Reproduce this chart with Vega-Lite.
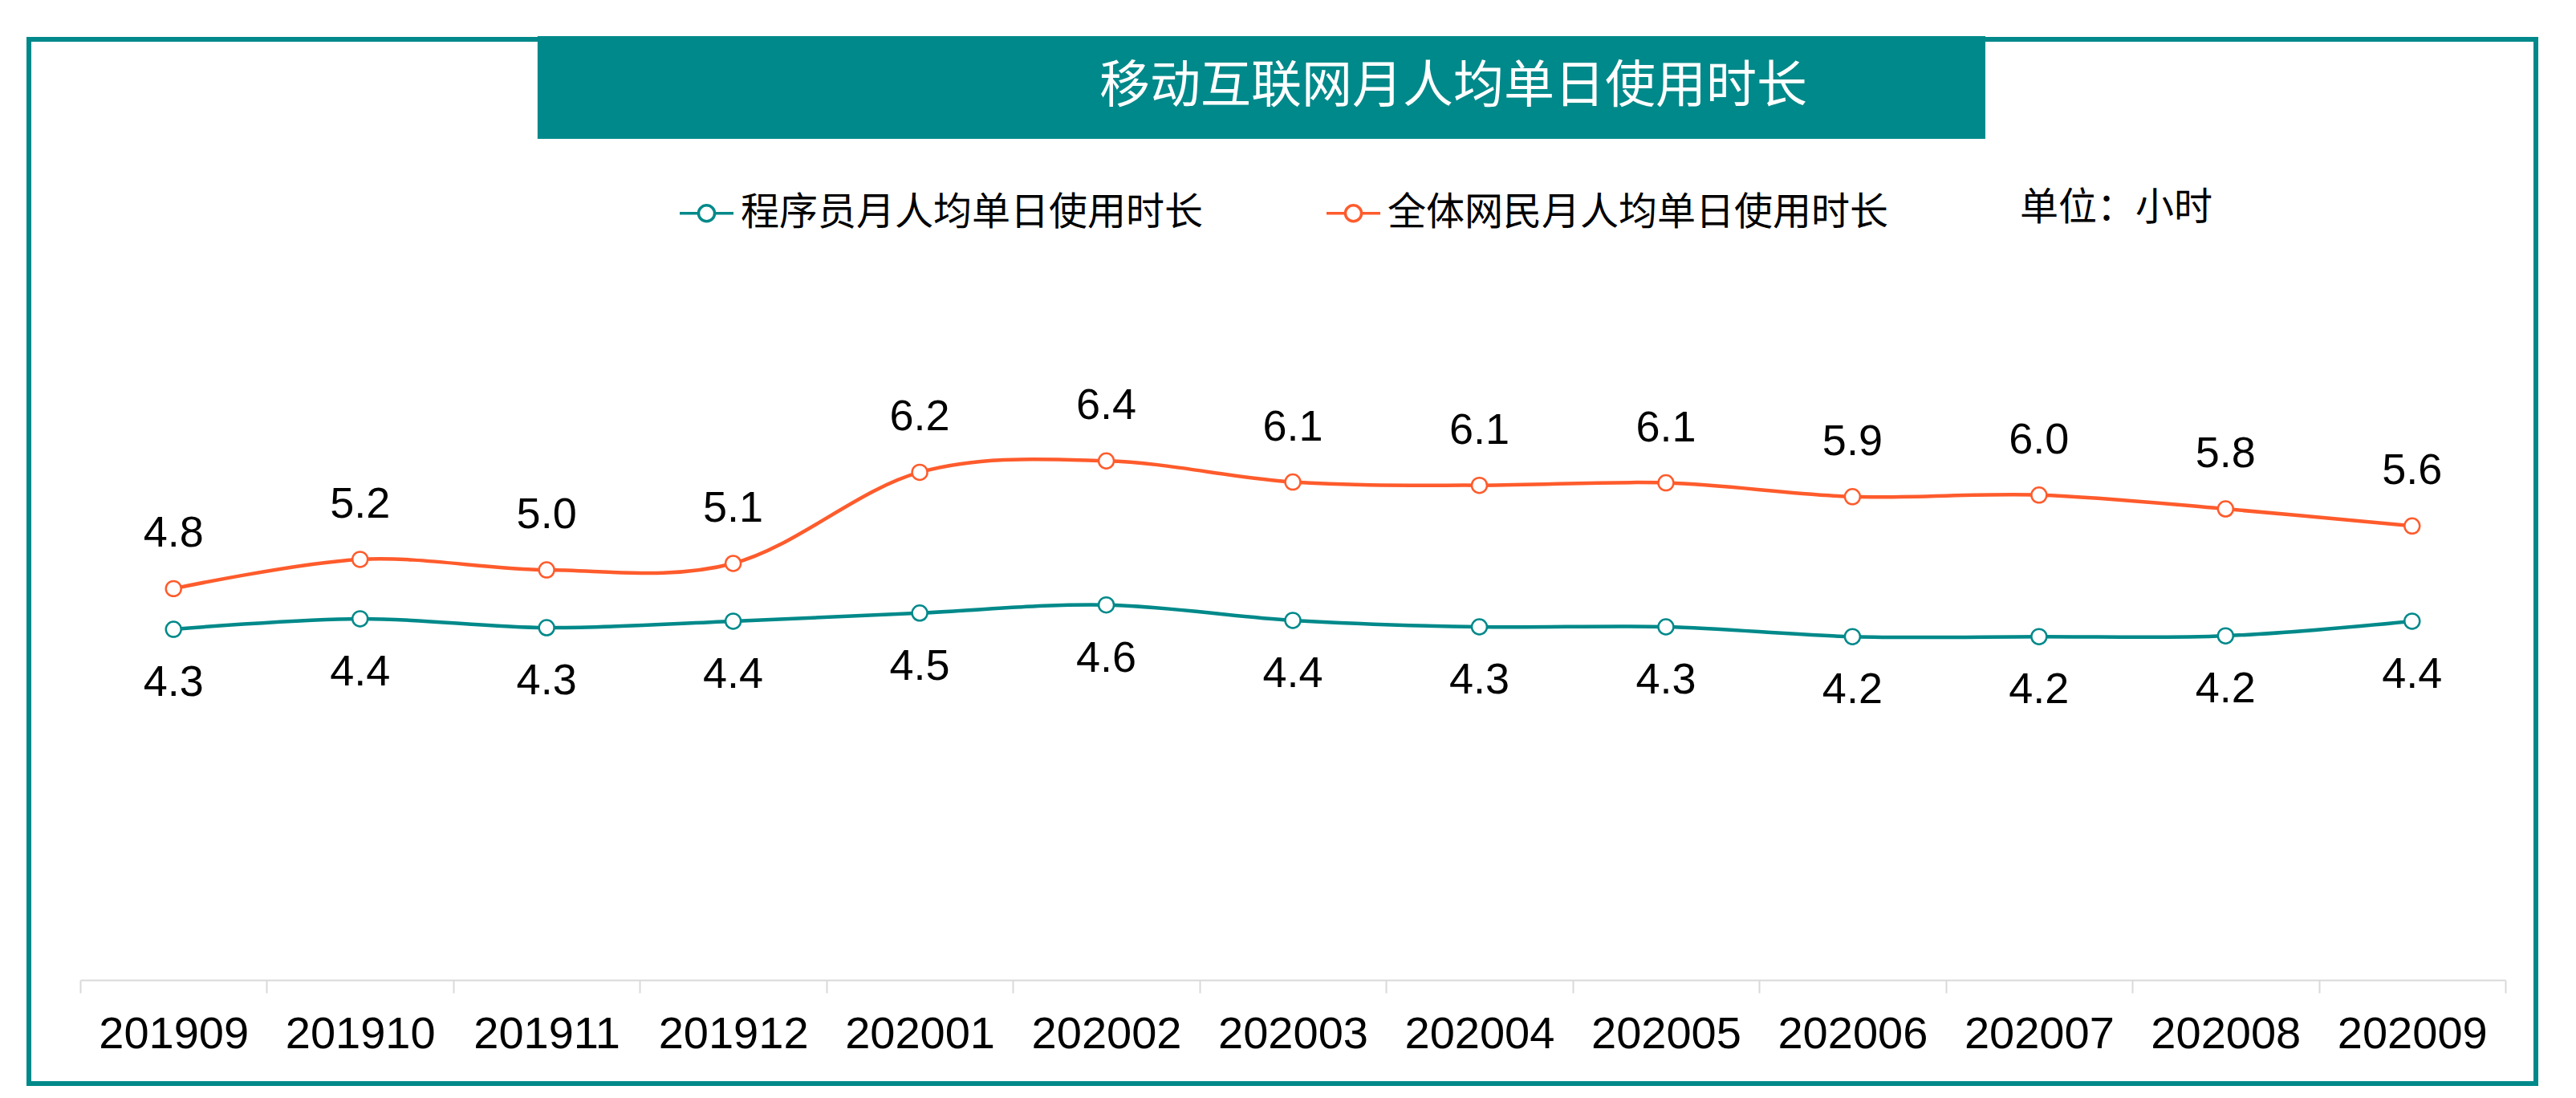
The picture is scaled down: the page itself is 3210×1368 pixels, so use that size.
{
  "$schema": "https://vega.github.io/schema/vega-lite/v6.json",
  "width": 3124,
  "height": 1301,
  "autosize": {"type": "none"},
  "padding": {"left": 36, "top": 49, "right": 50, "bottom": 18},
  "background": "white",
  "config": {"view": {"stroke": "#00898A", "strokeWidth": 6}},
  "resolve": {"scale": {"x": "independent", "y": "independent"}},
  "layer": [
    {
      "data": {"values": [{"title": "移动互联网月人均单日使用时长"}]},
      "layer": [
        {
          "mark": {"type": "rect", "color": "#00898A"},
          "encoding": {
            "x": {"datum": 20.29, "type": "quantitative", "scale": {"domain": [0, 100], "nice": false}, "axis": null},
            "x2": {"datum": 78.04},
            "y": {"datum": 90.47, "type": "quantitative", "scale": {"domain": [0, 100], "nice": false}, "axis": null},
            "y2": {"datum": 100.3}
          }
        },
        {
          "mark": {"type": "text", "color": "white", "font": "Noto Sans CJK SC", "fontSize": 63, "baseline": "middle"},
          "encoding": {
            "x": {"datum": 56.82, "type": "quantitative"},
            "y": {"datum": 95.47, "type": "quantitative"},
            "text": {"field": "title", "type": "nominal"}
          }
        }
      ]
    },
    {
      "data": {"values": [
        {"month": "201909", "series": "程序员月人均单日使用时长", "value": 4.31},
        {"month": "201910", "series": "程序员月人均单日使用时长", "value": 4.44},
        {"month": "201911", "series": "程序员月人均单日使用时长", "value": 4.33},
        {"month": "201912", "series": "程序员月人均单日使用时长", "value": 4.41},
        {"month": "202001", "series": "程序员月人均单日使用时长", "value": 4.51},
        {"month": "202002", "series": "程序员月人均单日使用时长", "value": 4.61},
        {"month": "202003", "series": "程序员月人均单日使用时长", "value": 4.42},
        {"month": "202004", "series": "程序员月人均单日使用时长", "value": 4.34},
        {"month": "202005", "series": "程序员月人均单日使用时长", "value": 4.34},
        {"month": "202006", "series": "程序员月人均单日使用时长", "value": 4.22},
        {"month": "202007", "series": "程序员月人均单日使用时长", "value": 4.22},
        {"month": "202008", "series": "程序员月人均单日使用时长", "value": 4.23},
        {"month": "202009", "series": "程序员月人均单日使用时长", "value": 4.41},
        {"month": "201909", "series": "全体网民月人均单日使用时长", "value": 4.81},
        {"month": "201910", "series": "全体网民月人均单日使用时长", "value": 5.17},
        {"month": "201911", "series": "全体网民月人均单日使用时长", "value": 5.04},
        {"month": "201912", "series": "全体网民月人均单日使用时长", "value": 5.12},
        {"month": "202001", "series": "全体网民月人均单日使用时长", "value": 6.24},
        {"month": "202002", "series": "全体网民月人均单日使用时长", "value": 6.38},
        {"month": "202003", "series": "全体网民月人均单日使用时长", "value": 6.12},
        {"month": "202004", "series": "全体网民月人均单日使用时长", "value": 6.08},
        {"month": "202005", "series": "全体网民月人均单日使用时长", "value": 6.11},
        {"month": "202006", "series": "全体网民月人均单日使用时长", "value": 5.94},
        {"month": "202007", "series": "全体网民月人均单日使用时长", "value": 5.96},
        {"month": "202008", "series": "全体网民月人均单日使用时长", "value": 5.79},
        {"month": "202009", "series": "全体网民月人均单日使用时长", "value": 5.58}
      ]},
      "encoding": {
        "x": {
          "field": "month", "type": "ordinal",
          "scale": {"type": "band", "range": [64, 3086], "paddingInner": 0, "paddingOuter": 0},
          "axis": {
            "orient": "bottom", "offset": -129, "tickBand": "extent", "title": null, "grid": false,
            "domainColor": "#d9d9d9", "domainWidth": 2, "tickColor": "#d9d9d9", "tickWidth": 2, "tickSize": 16,
            "labelFont": "Liberation Sans", "labelFontSize": 56, "labelColor": "black", "labelPadding": 24, "labelAngle": 0,
            "labelLimit": 0, "labelOverlap": false
          }
        },
        "y": {
          "field": "value", "type": "quantitative",
          "scale": {"domain": [0, 8], "range": [1172, 361], "nice": false, "zero": false},
          "axis": null
        }
      },
      "layer": [
        {
          "mark": {"type": "line", "interpolate": "cardinal", "strokeWidth": 4.5},
          "encoding": {
            "stroke": {
              "field": "series", "type": "nominal",
              "scale": {"domain": ["程序员月人均单日使用时长", "全体网民月人均单日使用时长"], "range": ["#00898A", "#FF5B2C"]},
              "legend": {
                "title": "单位：小时", "orient": "none", "legendX": 809, "legendY": 181, "direction": "horizontal",
                "titleOrient": "right", "titlePadding": 164, "titleFont": "Noto Sans CJK SC", "titleFontSize": 48,
                "titleFontWeight": "normal", "titleColor": "black", "titleBaseline": "middle", "titleLimit": 600,
                "labelFont": "Noto Sans CJK SC", "labelFontSize": 48, "labelColor": "black", "labelOffset": 7, "labelLimit": 0,
                "columnPadding": 146, "padding": 0,
                "symbolType": "M-1,0H-0.3M0.3,0H1M0.3,0A0.3,0.3,0,1,1,-0.3,0A0.3,0.3,0,1,1,0.3,0",
                "symbolSize": 4489, "symbolStrokeWidth": 3.5, "symbolFillColor": "white"
              }
            }
          }
        },
        {
          "mark": {"type": "point", "shape": "circle", "filled": true, "fill": "white", "size": 360, "strokeWidth": 2.5, "opacity": 1},
          "encoding": {
            "stroke": {"field": "series", "type": "nominal"}
          }
        },
        {
          "transform": [{"filter": "datum.series === '全体网民月人均单日使用时长'"}],
          "mark": {"type": "text", "dy": -68, "font": "Liberation Sans", "fontSize": 54, "color": "black", "baseline": "middle"},
          "encoding": {"text": {"field": "value", "type": "quantitative", "format": ".1f"}}
        },
        {
          "transform": [{"filter": "datum.series === '程序员月人均单日使用时长'"}],
          "mark": {"type": "text", "dy": 67, "font": "Liberation Sans", "fontSize": 54, "color": "black", "baseline": "middle"},
          "encoding": {"text": {"field": "value", "type": "quantitative", "format": ".1f"}}
        }
      ]
    }
  ]
}
